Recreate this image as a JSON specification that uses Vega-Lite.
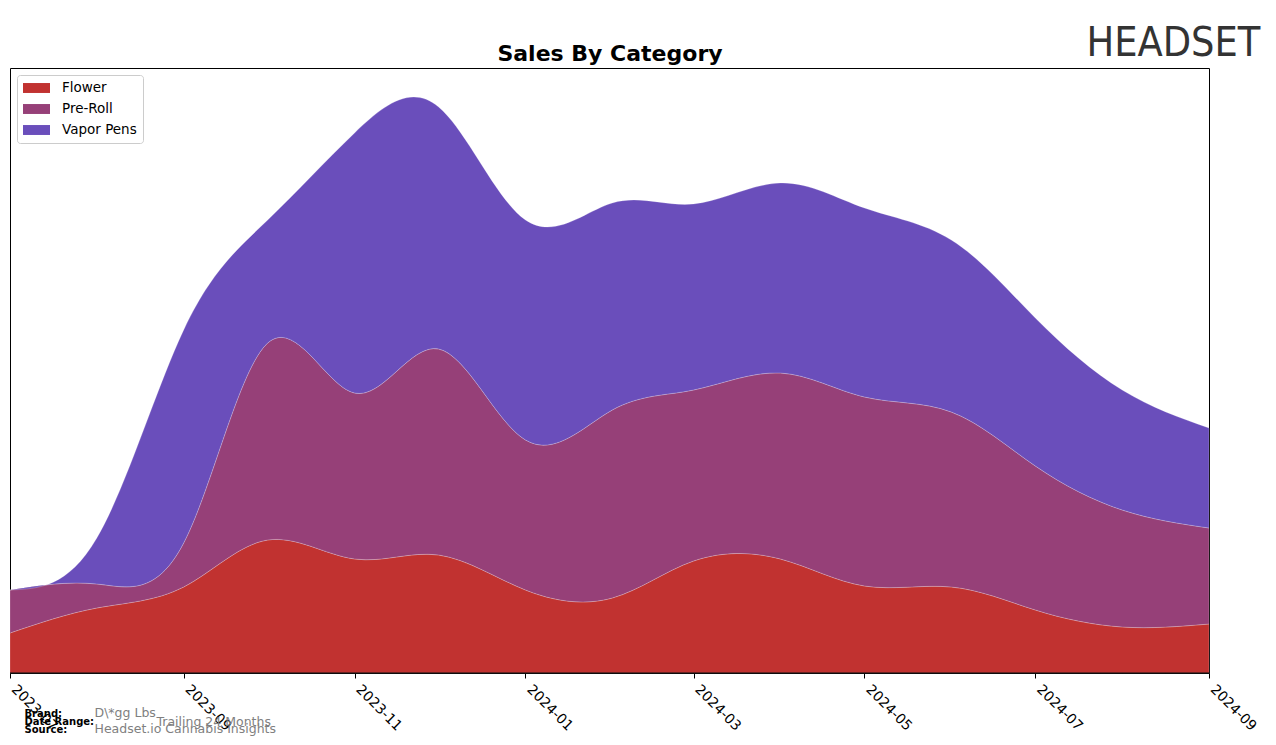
{
  "$schema": "https://vega.github.io/schema/vega-lite/v6.json",
  "width": 1199,
  "height": 605,
  "autosize": {"type": "none"},
  "padding": {"left": 10, "top": 68, "right": 67, "bottom": 72},
  "background": "white",
  "title": {
    "text": "HEADSET",
    "anchor": "end",
    "font": "Liberation Sans Narrow, DejaVu Sans Condensed, Roboto Condensed, Liberation Sans, sans-serif",
    "fontSize": 41,
    "fontWeight": "normal",
    "color": "#333333",
    "baseline": "alphabetic",
    "offset": 0,
    "dx": 2,
    "dy": 55
  },
  "datasets": {
    "sales": [
      {"month": "2023-07-01", "category": "Flower", "sales": 40},
      {"month": "2023-08-01", "category": "Flower", "sales": 65},
      {"month": "2023-09-01", "category": "Flower", "sales": 86},
      {"month": "2023-10-01", "category": "Flower", "sales": 133},
      {"month": "2023-11-01", "category": "Flower", "sales": 114},
      {"month": "2023-12-01", "category": "Flower", "sales": 118},
      {"month": "2024-01-01", "category": "Flower", "sales": 83},
      {"month": "2024-02-01", "category": "Flower", "sales": 75},
      {"month": "2024-03-01", "category": "Flower", "sales": 112},
      {"month": "2024-04-01", "category": "Flower", "sales": 114},
      {"month": "2024-05-01", "category": "Flower", "sales": 87},
      {"month": "2024-06-01", "category": "Flower", "sales": 86},
      {"month": "2024-07-01", "category": "Flower", "sales": 63},
      {"month": "2024-08-01", "category": "Flower", "sales": 46},
      {"month": "2024-09-01", "category": "Flower", "sales": 49},
      {"month": "2023-07-01", "category": "Pre-Roll", "sales": 43},
      {"month": "2023-08-01", "category": "Pre-Roll", "sales": 24},
      {"month": "2023-09-01", "category": "Pre-Roll", "sales": 44},
      {"month": "2023-10-01", "category": "Pre-Roll", "sales": 197},
      {"month": "2023-11-01", "category": "Pre-Roll", "sales": 166},
      {"month": "2023-12-01", "category": "Pre-Roll", "sales": 206},
      {"month": "2024-01-01", "category": "Pre-Roll", "sales": 150},
      {"month": "2024-02-01", "category": "Pre-Roll", "sales": 188},
      {"month": "2024-03-01", "category": "Pre-Roll", "sales": 171},
      {"month": "2024-04-01", "category": "Pre-Roll", "sales": 186},
      {"month": "2024-05-01", "category": "Pre-Roll", "sales": 189},
      {"month": "2024-06-01", "category": "Pre-Roll", "sales": 175},
      {"month": "2024-07-01", "category": "Pre-Roll", "sales": 144},
      {"month": "2024-08-01", "category": "Pre-Roll", "sales": 117},
      {"month": "2024-09-01", "category": "Pre-Roll", "sales": 96},
      {"month": "2023-07-01", "category": "Vapor Pens", "sales": 0},
      {"month": "2023-08-01", "category": "Vapor Pens", "sales": 46},
      {"month": "2023-09-01", "category": "Vapor Pens", "sales": 213},
      {"month": "2023-10-01", "category": "Vapor Pens", "sales": 123},
      {"month": "2023-11-01", "category": "Vapor Pens", "sales": 260},
      {"month": "2023-12-01", "category": "Vapor Pens", "sales": 242},
      {"month": "2024-01-01", "category": "Vapor Pens", "sales": 220},
      {"month": "2024-02-01", "category": "Vapor Pens", "sales": 207},
      {"month": "2024-03-01", "category": "Vapor Pens", "sales": 186},
      {"month": "2024-04-01", "category": "Vapor Pens", "sales": 190},
      {"month": "2024-05-01", "category": "Vapor Pens", "sales": 189},
      {"month": "2024-06-01", "category": "Vapor Pens", "sales": 172},
      {"month": "2024-07-01", "category": "Vapor Pens", "sales": 148},
      {"month": "2024-08-01", "category": "Vapor Pens", "sales": 120},
      {"month": "2024-09-01", "category": "Vapor Pens", "sales": 100}
    ]
  },
  "layer": [
    {
      "data": {"name": "sales"},
      "mark": {
        "type": "area",
        "interpolate": "natural",
        "stroke": "white",
        "strokeWidth": 0.6,
        "strokeOpacity": 0.35
      },
      "encoding": {
        "x": {
          "field": "month",
          "type": "temporal",
          "scale": {
            "type": "utc",
            "nice": false,
            "domain": [
              {"year": 2023, "month": 7, "date": 1, "utc": true},
              {"year": 2024, "month": 9, "date": 1, "utc": true}
            ]
          },
          "axis": {
            "orient": "bottom",
            "format": "%Y-%m",
            "values": [
              {"year": 2023, "month": 7, "date": 1, "utc": true},
              {"year": 2023, "month": 9, "date": 1, "utc": true},
              {"year": 2023, "month": 11, "date": 1, "utc": true},
              {"year": 2024, "month": 1, "date": 1, "utc": true},
              {"year": 2024, "month": 3, "date": 1, "utc": true},
              {"year": 2024, "month": 5, "date": 1, "utc": true},
              {"year": 2024, "month": 7, "date": 1, "utc": true},
              {"year": 2024, "month": 9, "date": 1, "utc": true}
            ],
            "labelAngle": 45,
            "labelAlign": "left",
            "labelBaseline": "top",
            "labelFont": "DejaVu Sans",
            "labelFontSize": 14,
            "labelColor": "black",
            "labelPadding": 4,
            "labelOffset": 8,
            "labelFlush": false,
            "labelOverlap": false,
            "labelBound": false,
            "tickColor": "black",
            "tickSize": 5,
            "tickWidth": 1,
            "domain": false,
            "grid": false,
            "title": ["D\\*gg Lbs", "Headset.io Cannabis Insights"],
            "titleX": 84,
            "titleY": 43,
            "titleAlign": "left",
            "titleAnchor": "start",
            "titleBaseline": "alphabetic",
            "titleFont": "DejaVu Sans",
            "titleFontSize": 12.5,
            "titleFontWeight": "normal",
            "titleColor": "#808080",
            "titleLineHeight": 16
          }
        },
        "y": {
          "field": "sales",
          "type": "quantitative",
          "stack": "zero",
          "scale": {"domain": [0, 605], "nice": false, "zero": true},
          "axis": {
            "orient": "left",
            "labels": false,
            "ticks": false,
            "domain": false,
            "grid": false,
            "title": ["Brand:", "Date Range:", "Source:"],
            "titleAngle": 0,
            "titleX": 14,
            "titleY": 648,
            "titleAlign": "left",
            "titleBaseline": "alphabetic",
            "titleFont": "DejaVu Sans",
            "titleFontSize": 10,
            "titleFontWeight": "bold",
            "titleColor": "black",
            "titleLineHeight": 8
          }
        },
        "color": {
          "field": "category",
          "type": "nominal",
          "scale": {
            "domain": ["Flower", "Pre-Roll", "Vapor Pens"],
            "range": ["#c13230", "#964078", "#6a4ebb"]
          },
          "legend": {
            "title": null,
            "orient": "top-left",
            "offset": 7,
            "padding": 6,
            "strokeColor": "#cccccc",
            "fillColor": "white",
            "cornerRadius": 3,
            "labelFont": "DejaVu Sans",
            "labelFontSize": 13.5,
            "labelColor": "black",
            "labelOffset": 18.5,
            "rowPadding": 7,
            "symbolType": "M-1.93,-0.71H1.93V0.71H-1.93Z",
            "symbolSize": 196,
            "symbolOffset": 6.5,
            "symbolStrokeWidth": 0,
            "symbolOpacity": 1
          }
        },
        "order": {"field": "category", "sort": "ascending"}
      }
    },
    {
      "data": {"values": [{"baseline": 0, "start": "2023-07-01", "end": "2024-09-01"}]},
      "mark": {"type": "rule", "color": "black", "strokeWidth": 1},
      "encoding": {
        "x": {
          "field": "start",
          "type": "temporal",
          "axis": {
            "orient": "top",
            "labels": false,
            "ticks": false,
            "domain": false,
            "grid": false,
            "title": "Trailing 24 Months",
            "titleX": 146,
            "titleY": 657,
            "titleAlign": "left",
            "titleAnchor": "start",
            "titleBaseline": "alphabetic",
            "titleFont": "DejaVu Sans",
            "titleFontSize": 12.5,
            "titleFontWeight": "normal",
            "titleColor": "#808080"
          }
        },
        "x2": {"field": "end"},
        "y": {
          "field": "baseline",
          "type": "quantitative",
          "axis": {
            "orient": "right",
            "labels": false,
            "ticks": false,
            "domain": false,
            "grid": false,
            "title": "Sales By Category",
            "titleAngle": 0,
            "titleX": -599.5,
            "titleY": -8,
            "titleAlign": "center",
            "titleBaseline": "alphabetic",
            "titleFont": "DejaVu Sans",
            "titleFontSize": 22,
            "titleFontWeight": "bold",
            "titleColor": "black"
          }
        }
      }
    }
  ],
  "resolve": {"axis": {"x": "independent", "y": "independent"}},
  "config": {
    "view": {"stroke": "black", "strokeWidth": 1},
    "font": "DejaVu Sans"
  }
}
